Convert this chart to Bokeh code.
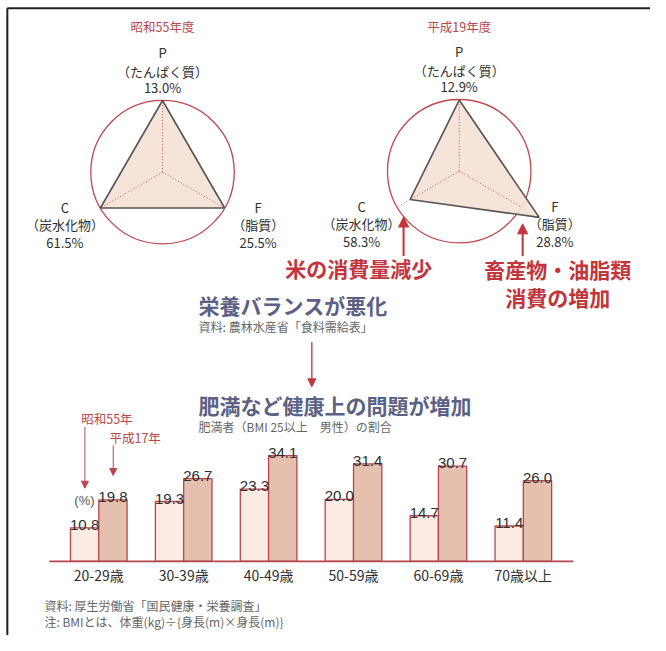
import math
from bokeh.plotting import figure
from bokeh.models import Range1d, ColumnDataSource, Arrow, NormalHead
from bokeh.core.properties import value
from bokeh.embed import file_html
from bokeh.resources import INLINE

# ---------------- data ----------------
radar_axes = ["P", "F", "C"]
radar_names = ["（たんぱく質）", "（脂質）", "（炭水化物）"]
pfc_s55 = [13.0, 25.5, 61.5]   # 昭和55年度
pfc_h19 = [12.9, 28.8, 58.3]   # 平成19年度

age_groups = ["20-29歳", "30-39歳", "40-49歳", "50-59歳", "60-69歳", "70歳以上"]
obese_s55 = [10.8, 19.3, 23.3, 20.0, 14.7, 11.4]
obese_h17 = [19.8, 26.7, 34.1, 31.4, 30.7, 26.0]

# ---------------- style ----------------
JP = value("Noto Sans CJK JP")
NUM = value("Liberation Sans")
DARK = "#2e2e2e"
GRAY = "#666666"
RED = "#c3343c"
RED_T = "#b9474d"
SLATE = "#5b6184"
CIRCLE_C = "#c0474d"
LIGHT_BAR = "#fcebe3"
DARK_BAR = "#e5c0ae"
BAR_LINE = "#b5474c"

W, H = 650, 635          # figure size (fits the window with the 8px page margin)
CW, CH = 666, 651        # layout canvas units
p = figure(width=W, height=H, x_range=Range1d(0, CW), y_range=Range1d(CH, 0),
           output_backend="svg", toolbar_location=None, min_border=0)
p.axis.visible = False
p.grid.visible = False
p.outline_line_color = None
p.background_fill_color = "white"
p.border_fill_color = "white"

# frame lines (top and left)
p.segment(x0=[7, 7], y0=[8, 8], x1=[CW, 7], y1=[8, CH], line_color="#222222", line_width=2)


def txt(x, y, s, size, color, font=JP, align="center", style="normal", baseline="middle"):
    p.text(x=[x], y=[y], text=[s], text_font=font, text_font_size=size, text_color=color,
           text_align=align, text_baseline=baseline, text_font_style=style)


def arrow(x, y0, y1, color, width, size):
    p.add_layout(Arrow(end=NormalHead(size=size, fill_color=color, line_color=color, line_width=1),
                       x_start=x, y_start=y0, x_end=x, y_end=y1,
                       line_color=color, line_width=width))


# ---------------- radar charts ----------------
R = 73.5
ANGLES = [90, -30, 210]
GAIN = [5.5, 6.4, 4.8]   # px per percentage point relative to the 昭和55 balance
LABEL_DX = [0, 98, -100]


def radar(cx, cy, vals, title):
    txt(cx, 27, title, "12.5px", RED_T)
    p.circle(x=[cx], y=[cy], radius=R, fill_color=None, line_color=CIRCLE_C, line_width=1.3)
    xs, ys = [], []
    for a, v, b, g in zip(ANGLES, vals, pfc_s55, GAIN):
        r = R + g * (v - b)
        xs.append(cx + r * math.cos(math.radians(a)))
        ys.append(cy - r * math.sin(math.radians(a)))
    p.patch(xs, ys, fill_color="#f6e1d5", fill_alpha=0.9, line_color="#555555", line_width=1.6)
    ax_x = [cx + R * math.cos(math.radians(a)) for a in ANGLES]
    ax_y = [cy - R * math.sin(math.radians(a)) for a in ANGLES]
    p.segment(x0=[cx] * 3, y0=[cy] * 3, x1=ax_x, y1=ax_y, line_color="#b35a5a",
              line_width=1, line_dash="1 2")
    for i, (k, nm, v) in enumerate(zip(radar_axes, radar_names, vals)):
        if i == 0:
            lx, ys_ = cx, [cy - 123, cy - 103, cy - 87]
        else:
            lx, ys_ = cx + LABEL_DX[i], [cy + 36, cy + 54, cy + 72]
        txt(lx, ys_[0], k, "13px", DARK)
        txt(lx, ys_[1], nm, "13px", DARK)
        txt(lx, ys_[2], f"{v:.1f}%", "13px", DARK)


radar(166, 176, pfc_s55, "昭和55年度")
radar(470, 175, pfc_h19, "平成19年度")

# callouts
arrow(413, 262, 222, RED, 2, 10)
arrow(535, 262, 229, RED, 2, 10)
txt(367, 274, "米の消費量減少", "21px", RED, style="bold")
txt(571, 275, "畜産物・油脂類", "21px", RED, style="bold")
txt(571, 304, "消費の増加", "21px", RED, style="bold")

# middle texts
txt(203, 312, "栄養バランスが悪化", "21px", SLATE, align="left", style="bold")
txt(203, 334, "資料: 農林水産省「食料需給表」", "12px", GRAY, align="left")
arrow(319, 350, 396, RED, 1.3, 8)
txt(203, 415, "肥満など健康上の問題が増加", "21px", SLATE, align="left", style="bold")
txt(203, 437, "肥満者（BMI 25以上　男性）の割合", "12px", GRAY, align="left")

# ---------------- bar chart ----------------
PX_PER_PCT = 3.18
BASE_Y = 575
p.extra_y_ranges = {"pct": Range1d(start=-(CH - BASE_Y) / PX_PER_PCT,
                                   end=BASE_Y / PX_PER_PCT)}
G0, GSTEP, BW = 100.7, 87.0, 29.0
centers = [G0 + i * GSTEP for i in range(len(age_groups))]
x_s55 = [c - BW / 2 for c in centers]
x_h17 = [c + BW / 2 for c in centers]

src = ColumnDataSource(dict(x1=x_s55, x2=x_h17, v1=obese_s55, v2=obese_h17,
                            t1=[f"{v:.1f}" for v in obese_s55],
                            t2=[f"{v:.1f}" for v in obese_h17],
                            c=centers, lab=age_groups))
p.vbar(x="x1", top="v1", bottom=0, width=BW, source=src, y_range_name="pct",
       fill_color=LIGHT_BAR, line_color=BAR_LINE, line_width=1.3)
p.vbar(x="x2", top="v2", bottom=0, width=BW, source=src, y_range_name="pct",
       fill_color=DARK_BAR, line_color=BAR_LINE, line_width=1.3)
p.text(x="x1", y="v1", text="t1", source=src, y_range_name="pct", text_font=NUM,
       text_font_size="15px", text_color=DARK, text_align="center",
       text_baseline="alphabetic", y_offset=-3)
p.text(x="x2", y="v2", text="t2", source=src, y_range_name="pct", text_font=NUM,
       text_font_size="15px", text_color=DARK, text_align="center",
       text_baseline="alphabetic", y_offset=-3)
p.segment(x0=[50], y0=[0], x1=[587], y1=[0], y_range_name="pct", line_color=BAR_LINE, line_width=1.6)
p.text(x="c", y=0, text="lab", source=src, y_range_name="pct", text_font=JP,
       text_font_size="14px", text_color=DARK, text_align="center",
       text_baseline="middle", y_offset=14)

txt(86, 513, "(%)", "13px", "#555555", font=NUM)
txt(109, 429, "昭和55年", "12.5px", RED_T)
txt(138, 448, "平成17年", "12.5px", RED_T)
arrow(86.5, 437, 500, RED_T, 1, 7)
arrow(115.5, 456, 487, RED_T, 1, 7)

# footer
txt(45, 620, "資料: 厚生労働省「国民健康・栄養調査」", "12px", GRAY, align="left")
txt(45, 637, "注: BMIとは、体重(kg)÷{身長(m)×身長(m)}", "12px", GRAY, align="left")

open("out.html", "w").write(file_html(p, INLINE))
